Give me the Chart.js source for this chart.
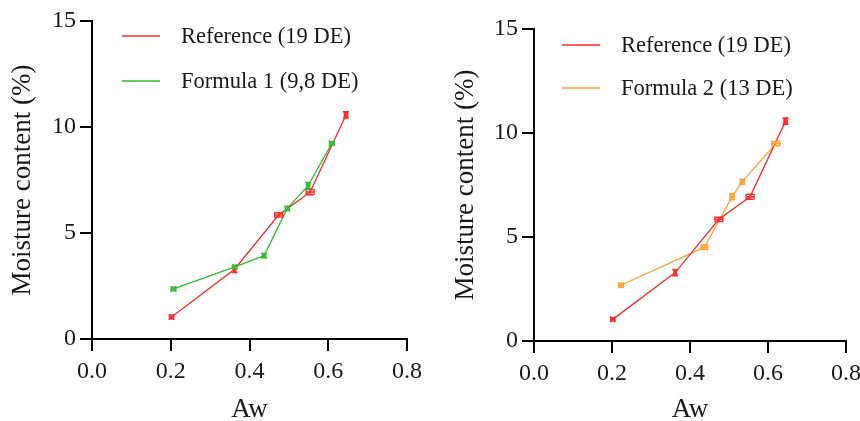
<!DOCTYPE html>
<html>
<head>
<meta charset="utf-8">
<script src="https://cdn.jsdelivr.net/npm/chart.js@4/dist/chart.umd.min.js"></script>
<style>
  html, body { margin: 0; padding: 0; background: #fff; }
  #wrap { position: relative; width: 860px; height: 421px; }
  canvas { position: absolute; top: 0; }
</style>
</head>
<body>
<div id="wrap">
  <canvas id="c1" width="430" height="421" style="left:0"></canvas>
  <canvas id="c2" width="430" height="421" style="left:430px"></canvas>
</div>
<script>
// ---- Data ----
const xTicks = [0.0, 0.2, 0.4, 0.6, 0.8];
const yTicks = [0, 5, 10, 15];

const refLabel = 'Reference (19 DE)';
const refAw   = [0.202, 0.362, 0.474, 0.554, 0.645];
const refMC   = [1.04, 3.29, 5.85, 6.93, 10.57];
const refAwErr = [0.005, 0.003, 0.010, 0.010, 0.004];
const refMCErr = [0.08, 0.15, 0.10, 0.12, 0.15];

const f1Label = 'Formula 1 (9,8 DE)';
const f1Aw   = [0.207, 0.363, 0.437, 0.496, 0.549, 0.609];
const f1MC   = [2.36, 3.40, 3.93, 6.16, 7.23, 9.23];
const f1AwErr = [0.006, 0.004, 0.004, 0.005, 0.004, 0.006];
const f1MCErr = [0.08, 0.08, 0.10, 0.10, 0.15, 0.08];

const f2Label = 'Formula 2 (13 DE)';
const f2Aw   = [0.223, 0.437, 0.508, 0.534, 0.620];
const f2MC   = [2.68, 4.51, 6.94, 7.66, 9.49];
const f2AwErr = [0.006, 0.008, 0.005, 0.005, 0.010];
const f2MCErr = [0.10, 0.10, 0.15, 0.12, 0.10];

const RED = '#ff2a2a', GREEN = '#2fbf2f', ORANGE = '#ffa033';
const FONT = '"Liberation Serif", "Times New Roman", serif';
const TXT = '#1a1a1a';

function pts(xs, ys) { return xs.map((x, i) => ({ x: x, y: ys[i] })); }

// error bars drawn through the scales
const errorBars = {
  id: 'errorBars',
  afterDatasetsDraw(chart) {
    const ctx = chart.ctx, xs = chart.scales.x, ys = chart.scales.y;
    chart.data.datasets.forEach(ds => {
      ctx.save();
      ctx.strokeStyle = ds.borderColor;
      ctx.lineWidth = 1.5;
      ds.data.forEach((p, i) => {
        const px = xs.getPixelForValue(p.x), py = ys.getPixelForValue(p.y);
        const x0 = xs.getPixelForValue(p.x - ds.xErr[i]), x1 = xs.getPixelForValue(p.x + ds.xErr[i]);
        const y0 = ys.getPixelForValue(p.y - ds.yErr[i]), y1 = ys.getPixelForValue(p.y + ds.yErr[i]);
        const c = 3;
        ctx.beginPath();
        ctx.moveTo(x0, py); ctx.lineTo(x1, py);
        ctx.moveTo(x0, py - c); ctx.lineTo(x0, py + c);
        ctx.moveTo(x1, py - c); ctx.lineTo(x1, py + c);
        ctx.moveTo(px, y0); ctx.lineTo(px, y1);
        ctx.moveTo(px - c, y0); ctx.lineTo(px + c, y0);
        ctx.moveTo(px - c, y1); ctx.lineTo(px + c, y1);
        ctx.stroke();
      });
      ctx.restore();
    });
  }
};

// legend inside the plot
const innerLegend = {
  id: 'innerLegend',
  afterDraw(chart, args, opts) {
    const ctx = chart.ctx, a = chart.chartArea;
    ctx.save();
    ctx.font = '22.5px ' + FONT;
    ctx.textBaseline = 'middle';
    ctx.fillStyle = TXT;
    chart.data.datasets.forEach((ds, i) => {
      const y = a.top + opts.dy + i * opts.gap;
      const x = a.left + opts.dx;
      ctx.strokeStyle = ds.borderColor;
      ctx.lineWidth = 1.3;
      ctx.beginPath(); ctx.moveTo(x, y); ctx.lineTo(x + 38, y); ctx.stroke();
      ctx.fillText(ds.label, x + 59, y + 1);
    });
    ctx.restore();
  }
};

function makeChart(id, datasets, geo) {
  return new Chart(document.getElementById(id), {
    type: 'scatter',
    data: { datasets: datasets },
    options: {
      responsive: false,
      animation: false,
      layout: { padding: { top: geo.top, right: geo.right, left: geo.left, bottom: 0 } },
      plugins: {
        legend: { display: false },
        tooltip: { enabled: false },
        innerLegend: { dx: geo.ldx, dy: geo.ldy, gap: geo.lgap }
      },
      scales: {
        x: {
          type: 'linear', min: 0, max: 0.8,
          afterBuildTicks: s => { s.ticks = xTicks.map(v => ({ value: v })); },
          afterFit: s => { s.height = geo.xh; s.paddingLeft = 0; s.paddingRight = 0; },
          grid: { display: true, drawOnChartArea: false, drawTicks: true, tickLength: 12, color: '#000', lineWidth: 2 },
          border: { display: true, color: '#000', width: 2 },
          ticks: { color: TXT, font: { family: FONT, size: 24 }, padding: 6, callback: v => v.toFixed(1), maxRotation: 0 },
          title: { display: true, text: 'Aw', color: TXT, font: { family: FONT, size: 27, lineHeight: 0.85 }, padding: { top: 4, bottom: 0 } }
        },
        y: {
          type: 'linear', min: 0, max: 15,
          afterBuildTicks: s => { s.ticks = yTicks.map(v => ({ value: v })); },
          afterFit: s => { s.width = geo.yw; s.paddingTop = 0; s.paddingBottom = 0; },
          grid: { display: true, drawOnChartArea: false, drawTicks: true, tickLength: 12, color: '#000', lineWidth: 2 },
          border: { display: true, color: '#000', width: 2 },
          ticks: { color: TXT, font: { family: FONT, size: 24 }, padding: 4, callback: v => String(v) },
          title: { display: true, text: 'Moisture content (%)', color: TXT, font: { family: FONT, size: 27, lineHeight: 1.2 }, padding: { top: 0, bottom: 4 } }
        }
      }
    },
    plugins: [errorBars, innerLegend]
  });
}

function ds(label, xs, ys, xe, ye, color) {
  return {
    label: label, data: pts(xs, ys), xErr: xe, yErr: ye,
    showLine: true, borderColor: color, backgroundColor: color,
    borderWidth: 1.3, pointRadius: 0, tension: 0
  };
}

makeChart('c1', [
  ds(refLabel, refAw, refMC, refAwErr, refMCErr, RED),
  ds(f1Label, f1Aw, f1MC, f1AwErr, f1MCErr, GREEN)
], { top: 21, right: 23, left: 7, xh: 82, yw: 85, ldx: 30, ldy: 15, lgap: 45 });

makeChart('c2', [
  ds(refLabel, refAw, refMC, refAwErr, refMCErr, RED),
  ds(f2Label, f2Aw, f2MC, f2AwErr, f2MCErr, ORANGE)
], { top: 29, right: 14, left: 20, xh: 80, yw: 84, ldx: 28, ldy: 16, lgap: 43 });
</script>
</body>
</html>
